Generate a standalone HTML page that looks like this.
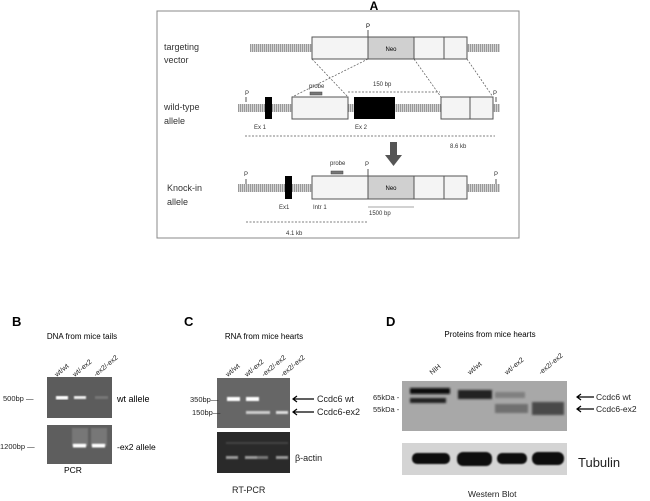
<!DOCTYPE html>
<html><head><meta charset="utf-8"><style>
html,body{margin:0;padding:0;background:#fff;width:650px;height:501px;overflow:hidden}
svg{display:block;font-family:"Liberation Sans",sans-serif}
</style></head><body>
<svg width="650" height="501" viewBox="0 0 650 501">
<defs>
<pattern id="hatch" width="2" height="8" patternUnits="userSpaceOnUse"><rect width="1" height="8" fill="#999"/><rect x="1" width="1" height="8" fill="#d4d4d4"/></pattern>
<filter id="blur"><feGaussianBlur stdDeviation="1"/></filter>
<filter id="blur2"><feGaussianBlur stdDeviation="0.7"/></filter>
</defs>
<text x="374" y="10" font-size="12" font-weight="bold" text-anchor="middle">A</text>
<rect x="157" y="11" width="362" height="227" fill="#fff" stroke="#888" stroke-width="1"/>
<g font-size="9" fill="#333">
<text x="164" y="50">targeting</text><text x="164" y="63">vector</text>
<text x="164" y="110">wild-type</text><text x="164" y="124">allele</text>
<text x="167" y="191">Knock-in</text><text x="167" y="205">allele</text>
</g>
<!-- targeting vector -->
<rect x="250" y="44" width="62" height="8" fill="url(#hatch)"/>
<rect x="467" y="44" width="33" height="8" fill="url(#hatch)"/>
<rect x="312" y="37" width="155" height="22" fill="#f4f4f4" stroke="#555"/>
<rect x="368" y="37" width="46" height="22" fill="#d0d0d0" stroke="#555"/>
<line x1="444" y1="37" x2="444" y2="59" stroke="#555"/>
<text x="391" y="51" font-size="6" text-anchor="middle">Neo</text>
<line x1="368" y1="30" x2="368" y2="37" stroke="#555"/>
<text x="368" y="28" font-size="6" text-anchor="middle">P</text>
<g stroke="#555" stroke-dasharray="2,1.5" stroke-width="0.7">
<line x1="312" y1="59" x2="348" y2="97"/><line x1="368" y1="59" x2="292" y2="97"/>
<line x1="467" y1="59" x2="493" y2="97"/><line x1="414" y1="59" x2="441" y2="97"/>
<line x1="348" y1="92" x2="440" y2="92"/>
<line x1="245" y1="136" x2="495" y2="136"/>
<line x1="246" y1="222" x2="368" y2="222"/>
</g>
<!-- wild type -->
<rect x="238" y="104" width="262" height="8" fill="url(#hatch)"/>
<rect x="265" y="97" width="7" height="22" fill="#000"/>
<rect x="292" y="97" width="56" height="22" fill="#f4f4f4" stroke="#555"/>
<rect x="354" y="97" width="41" height="22" fill="#000"/>
<rect x="441" y="97" width="52" height="22" fill="#f4f4f4" stroke="#555"/>
<line x1="470" y1="97" x2="470" y2="119" stroke="#555"/>
<rect x="310" y="92" width="12" height="3" fill="#777" stroke="#444" stroke-width="0.5"/>
<g font-size="6" fill="#333">
<text x="309" y="88">probe</text><text x="373" y="86">150 bp</text>
<text x="245" y="95">P</text><text x="493" y="95">P</text>
<text x="254" y="129">Ex 1</text><text x="355" y="129">Ex 2</text>
<text x="450" y="148">8.6 kb</text>
<text x="330" y="165">probe</text><text x="365" y="166">P</text>
<text x="244" y="176">P</text><text x="494" y="176">P</text>
<text x="279" y="209">Ex1</text><text x="313" y="209">Intr 1</text>
<text x="369" y="215">1500 bp</text><text x="286" y="235">4.1 kb</text>
</g>
<line x1="246" y1="97" x2="246" y2="102" stroke="#555"/>
<line x1="496" y1="97" x2="496" y2="102" stroke="#555"/>
<!-- arrow -->
<rect x="390" y="142" width="7" height="14" fill="#555"/>
<polygon points="385,155 402,155 393.5,166" fill="#555"/>
<!-- knock-in -->
<rect x="238" y="184" width="262" height="8" fill="url(#hatch)"/>
<rect x="285" y="176" width="7" height="23" fill="#000"/>
<rect x="312" y="176" width="155" height="23" fill="#f4f4f4" stroke="#555"/>
<rect x="368" y="176" width="46" height="23" fill="#d0d0d0" stroke="#555"/>
<line x1="444" y1="176" x2="444" y2="199" stroke="#555"/>
<text x="391" y="190" font-size="6" text-anchor="middle">Neo</text>
<line x1="368" y1="169" x2="368" y2="176" stroke="#555"/>
<line x1="246" y1="179" x2="246" y2="184" stroke="#555"/>
<line x1="496" y1="179" x2="496" y2="184" stroke="#555"/>
<rect x="331" y="171" width="12" height="3" fill="#777" stroke="#444" stroke-width="0.5"/>
<line x1="368" y1="207" x2="414" y2="207" stroke="#888" stroke-width="0.7"/>

<!-- B -->
<text x="12" y="326" font-size="13" font-weight="bold">B</text>
<text x="82" y="339" font-size="8" text-anchor="middle">DNA from mice tails</text>
<g font-size="7" fill="#222">
<text transform="translate(57,377) rotate(-40)">wt/wt</text>
<text transform="translate(75,377) rotate(-40)">wt/-ex2</text>
<text transform="translate(96,377) rotate(-40)">-ex2/-ex2</text>
</g>
<rect x="47" y="377" width="65" height="41" fill="#5c5c5c"/>
<g filter="url(#blur2)" fill="#fff">
<rect x="56" y="396" width="12" height="3.5"/><rect x="74" y="396" width="12" height="3" fill="#eee"/>
<rect x="95" y="396" width="13" height="3" fill="#777"/>
</g>
<rect x="47" y="425" width="65" height="39" fill="#5e5e5e"/>
<g filter="url(#blur2)">
<rect x="72" y="428" width="16" height="18" fill="#777"/><rect x="91" y="428" width="16" height="18" fill="#777"/>
<rect x="73" y="444" width="13" height="3.5" fill="#fff"/><rect x="92" y="444" width="13" height="3.5" fill="#fff"/>
</g>
<g font-size="7.5" fill="#222">
<text x="3" y="401">500bp —</text><text x="0" y="449">1200bp —</text>
</g>
<text x="117" y="402" font-size="9">wt allele</text>
<text x="117" y="450" font-size="8.5">-ex2 allele</text>
<text x="64" y="473" font-size="8.5">PCR</text>

<!-- C -->
<text x="184" y="326" font-size="13" font-weight="bold">C</text>
<text x="264" y="339" font-size="8" text-anchor="middle">RNA from mice hearts</text>
<g font-size="7" fill="#222">
<text transform="translate(228,377) rotate(-40)">wt/wt</text>
<text transform="translate(247,377) rotate(-40)">wt/-ex2</text>
<text transform="translate(264,377) rotate(-40)">-ex2/-ex2</text>
<text transform="translate(283,377) rotate(-40)">-ex2/-ex2</text>
</g>
<rect x="217" y="378" width="73" height="50" fill="#666"/>
<g filter="url(#blur2)">
<rect x="227" y="397" width="13" height="4" fill="#fff"/><rect x="246" y="397" width="13" height="4" fill="#fff"/>
<rect x="246" y="411" width="13" height="3" fill="#ccc"/><rect x="258" y="411" width="12" height="3" fill="#ccc"/><rect x="276" y="411" width="12" height="3" fill="#ddd"/>
</g>
<rect x="217" y="432" width="73" height="41" fill="#2a2a2a"/>
<g filter="url(#blur2)" fill="#999">
<rect x="226" y="456" width="12" height="3"/><rect x="245" y="456" width="12" height="3"/><rect x="257" y="456" width="11" height="3" fill="#777"/><rect x="276" y="456" width="12" height="3"/>
<rect x="226" y="442" width="62" height="2" fill="#444"/>
</g>
<g font-size="7.5" fill="#222"><text x="190" y="402">350bp—</text><text x="192" y="415">150bp—</text></g>
<g stroke="#000" stroke-width="1.2" fill="none">
<path d="M293 399 H314 M297 396 L293 399 L297 402"/><path d="M293 412 H314 M297 409 L293 412 L297 415"/>
</g>
<g font-size="9" fill="#222"><text x="317" y="402">Ccdc6 wt</text><text x="317" y="415">Ccdc6-ex2</text>
<text x="295" y="461">β-actin</text><text x="232" y="493">RT-PCR</text></g>

<!-- D -->
<text x="386" y="326" font-size="13" font-weight="bold">D</text>
<text x="490" y="337" font-size="8" text-anchor="middle">Proteins from mice hearts</text>
<g font-size="7" fill="#222">
<text transform="translate(432,375) rotate(-40)">NIH</text>
<text transform="translate(470,375) rotate(-40)">wt/wt</text>
<text transform="translate(507,375) rotate(-40)">wt/-ex2</text>
<text transform="translate(541,375) rotate(-40)">-ex2/-ex2</text>
</g>
<rect x="402" y="381" width="165" height="50" fill="#a8a8a8"/>
<g filter="url(#blur)">
<rect x="410" y="388" width="40" height="6" fill="#111"/><rect x="410" y="398" width="36" height="5" fill="#222"/>
<rect x="458" y="390" width="34" height="9" fill="#222"/>
<rect x="495" y="392" width="30" height="6" fill="#808080"/>
<rect x="495" y="404" width="33" height="9" fill="#707070"/>
<rect x="532" y="402" width="32" height="13" fill="#4a4a4a"/>
</g>
<g font-size="7.5" fill="#222"><text x="373" y="400">65kDa -</text><text x="373" y="412">55kDa -</text></g>
<g stroke="#000" stroke-width="1.2" fill="none">
<path d="M577 397 H594 M581 394 L577 397 L581 400"/><path d="M577 409 H594 M581 406 L577 409 L581 412"/>
</g>
<g font-size="8.5" fill="#222"><text x="596" y="400">Ccdc6 wt</text><text x="596" y="412">Ccdc6-ex2</text></g>
<rect x="402" y="443" width="165" height="32" fill="#d4d4d4"/>
<g filter="url(#blur2)" fill="#111">
<rect x="412" y="453" width="38" height="11" rx="5"/><rect x="457" y="452" width="35" height="14" rx="6"/>
<rect x="497" y="453" width="30" height="11" rx="5"/><rect x="532" y="452" width="32" height="13" rx="6"/>
</g>
<text x="578" y="467" font-size="13" fill="#222">Tubulin</text>
<text x="468" y="497" font-size="8.5" fill="#222">Western Blot</text>
</svg>
</body></html>
